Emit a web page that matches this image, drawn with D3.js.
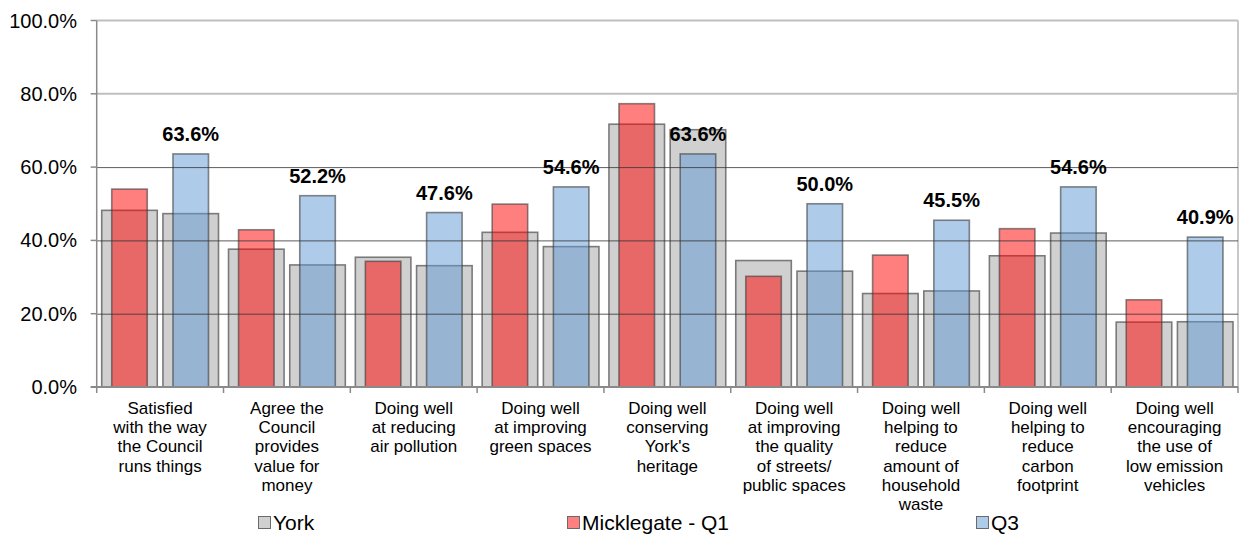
<!DOCTYPE html>
<html><head><meta charset="utf-8">
<script src="https://cdn.jsdelivr.net/npm/d3@7"></script>
<style>body{margin:0;background:#fff}svg{display:block;font-family:Arial,"Liberation Sans",sans-serif}</style>
</head><body><svg id="c" width="1241" height="536"></svg>
<script>
const categories = [
  ["Satisfied","with the way","the Council","runs things"],
  ["Agree the","Council","provides","value for","money"],
  ["Doing well","at reducing","air pollution"],
  ["Doing well","at improving","green spaces"],
  ["Doing well","conserving","York's","heritage"],
  ["Doing well","at improving","the quality","of streets/","public spaces"],
  ["Doing well","helping to","reduce","amount of","household","waste"],
  ["Doing well","helping to","reduce","carbon","footprint"],
  ["Doing well","encouraging","the use of","low emission","vehicles"]
];
const yorkQ1 = [48.2, 37.6, 35.4, 42.2, 71.7, 34.5, 25.5, 35.8, 17.7];
const yorkQ3 = [47.3, 33.3, 33.1, 38.3, 70.2, 31.6, 26.2, 42.0, 17.8];
const mickQ1 = [54.0, 42.9, 34.3, 49.9, 77.3, 30.2, 36.0, 43.2, 23.8];
const mickQ3 = [63.6, 52.2, 47.6, 54.6, 63.6, 50.0, 45.5, 54.6, 40.9];
const yTicks = [0, 20, 40, 60, 80, 100];
const legendNames = ["York", "Micklegate - Q1", "Q3"];

const svg = d3.select("#c");
const L = 96.7, R = 1238, T = 20.5, B = 387;
const idx = categories.map((d,i)=>i);
const x = d3.scaleBand().domain(idx).range([L, R]).padding(0);
const sub = d3.scaleBand().domain(["Q1","Q3"]).range([0, x.bandwidth()]).paddingInner(0.093).paddingOuter(0.082);
const y = d3.scaleLinear().domain([0, 100]).range([B, T]);
const fmt = v => v.toFixed(1) + "%";

// light gridlines
svg.append("g").selectAll("line").data([80,100]).join("line")
  .attr("x1", L).attr("x2", R).attr("y1", d=>y(d)).attr("y2", d=>y(d))
  .attr("stroke", "#bfbfbf").attr("stroke-width", 2);
// right border
svg.append("line").attr("x1", R).attr("x2", R).attr("y1", T).attr("y2", B)
  .attr("stroke", "#c8c8c8").attr("stroke-width", 2);

// grey York bars
const sw = sub.bandwidth();
const greyData = [];
idx.forEach(i => { greyData.push({i, s:"Q1", v:yorkQ1[i]}); greyData.push({i, s:"Q3", v:yorkQ3[i]}); });
svg.append("g").selectAll("rect").data(greyData).join("rect")
  .attr("x", d=>x(d.i)+sub(d.s)).attr("width", sw)
  .attr("y", d=>y(d.v)).attr("height", d=>B-y(d.v))
  .attr("fill", "#d0d0d0").attr("stroke", "#7a7a7a").attr("stroke-width", 1.6);

// Micklegate bars
const inW = sw * 0.64, inOff = (sw - inW) / 2;
const mData = [];
idx.forEach(i => { mData.push({i, s:"Q1", v:mickQ1[i]}); mData.push({i, s:"Q3", v:mickQ3[i]}); });
svg.append("g").selectAll("rect").data(mData).join("rect")
  .attr("x", d=>x(d.i)+sub(d.s)+inOff).attr("width", inW)
  .attr("y", d=>y(d.v)).attr("height", d=>B-y(d.v))
  .attr("fill", d=>d.s==="Q1" ? "rgb(255,0,0)" : "rgb(93,151,213)").attr("fill-opacity", 0.5)
  .attr("stroke", "#3a3a3a").attr("stroke-opacity", 0.6).attr("stroke-width", 1.6);

// dark gridlines on top
svg.append("g").selectAll("line").data([20,40,60]).join("line")
  .attr("x1", L).attr("x2", R).attr("y1", d=>y(d)+0.5).attr("y2", d=>y(d)+0.5)
  .attr("stroke", "#333").attr("stroke-opacity", 0.8).attr("stroke-width", 1);

// axes
const axisCol = "#8a8a8a";
svg.append("line").attr("x1", L).attr("x2", L).attr("y1", T).attr("y2", B)
  .attr("stroke", axisCol).attr("stroke-width", 1.5);
svg.append("g").selectAll("line").data(yTicks).join("line")
  .attr("x1", L-6).attr("x2", L).attr("y1", d=>y(d)).attr("y2", d=>y(d))
  .attr("stroke", axisCol).attr("stroke-width", 1.5);
svg.append("line").attr("x1", L-6).attr("x2", R).attr("y1", B).attr("y2", B)
  .attr("stroke", axisCol).attr("stroke-width", 2);
svg.append("g").selectAll("line").data(idx.concat([idx.length])).join("line")
  .attr("x1", d=> d < idx.length ? x(d) : R).attr("x2", d=> d < idx.length ? x(d) : R)
  .attr("y1", B).attr("y2", B+6)
  .attr("stroke", axisCol).attr("stroke-width", 1.5);

// y tick labels
svg.append("g").selectAll("text").data(yTicks).join("text")
  .attr("x", 77).attr("y", d=>y(d)+7).attr("text-anchor", "end")
  .attr("font-size", 20).attr("fill", "#000").text(d=>d.toFixed(1)+"%");

// category labels
const cg = svg.append("g").selectAll("text").data(idx).join("text")
  .attr("text-anchor", "middle").attr("font-size", 17).attr("fill", "#000");
cg.each(function(i){
  const t = d3.select(this);
  categories[i].forEach((line, k) => {
    t.append("tspan").attr("x", x(i)+x.bandwidth()/2).attr("y", 414 + k*19.2).text(line);
  });
});

// data labels
svg.append("g").selectAll("text").data(idx).join("text")
  .attr("x", i=>x(i)+sub("Q3")+sw/2).attr("y", i=>y(mickQ3[i])-13)
  .attr("text-anchor", "middle").attr("font-size", 20).attr("font-weight", "bold")
  .attr("fill", "#000").text(i=>fmt(mickQ3[i]));

// legend
const legX = [258, 567, 976];
const legFill = ["#d0d0d0", "#ff8080", "#aecbea"];
const lg = svg.append("g").selectAll("g").data(legendNames).join("g")
  .attr("transform", (d,i)=>`translate(${legX[i]},516)`);
lg.append("rect").attr("x", 0.5).attr("y", 0.5).attr("width", 12).attr("height", 12)
  .attr("fill", (d,i)=>legFill[i]).attr("stroke", "#6a6a6a").attr("stroke-width", 1);
lg.append("text").attr("x", 15).attr("y", 14).attr("font-size", 21).attr("fill", "#000").text(d=>d);
</script></body></html>
